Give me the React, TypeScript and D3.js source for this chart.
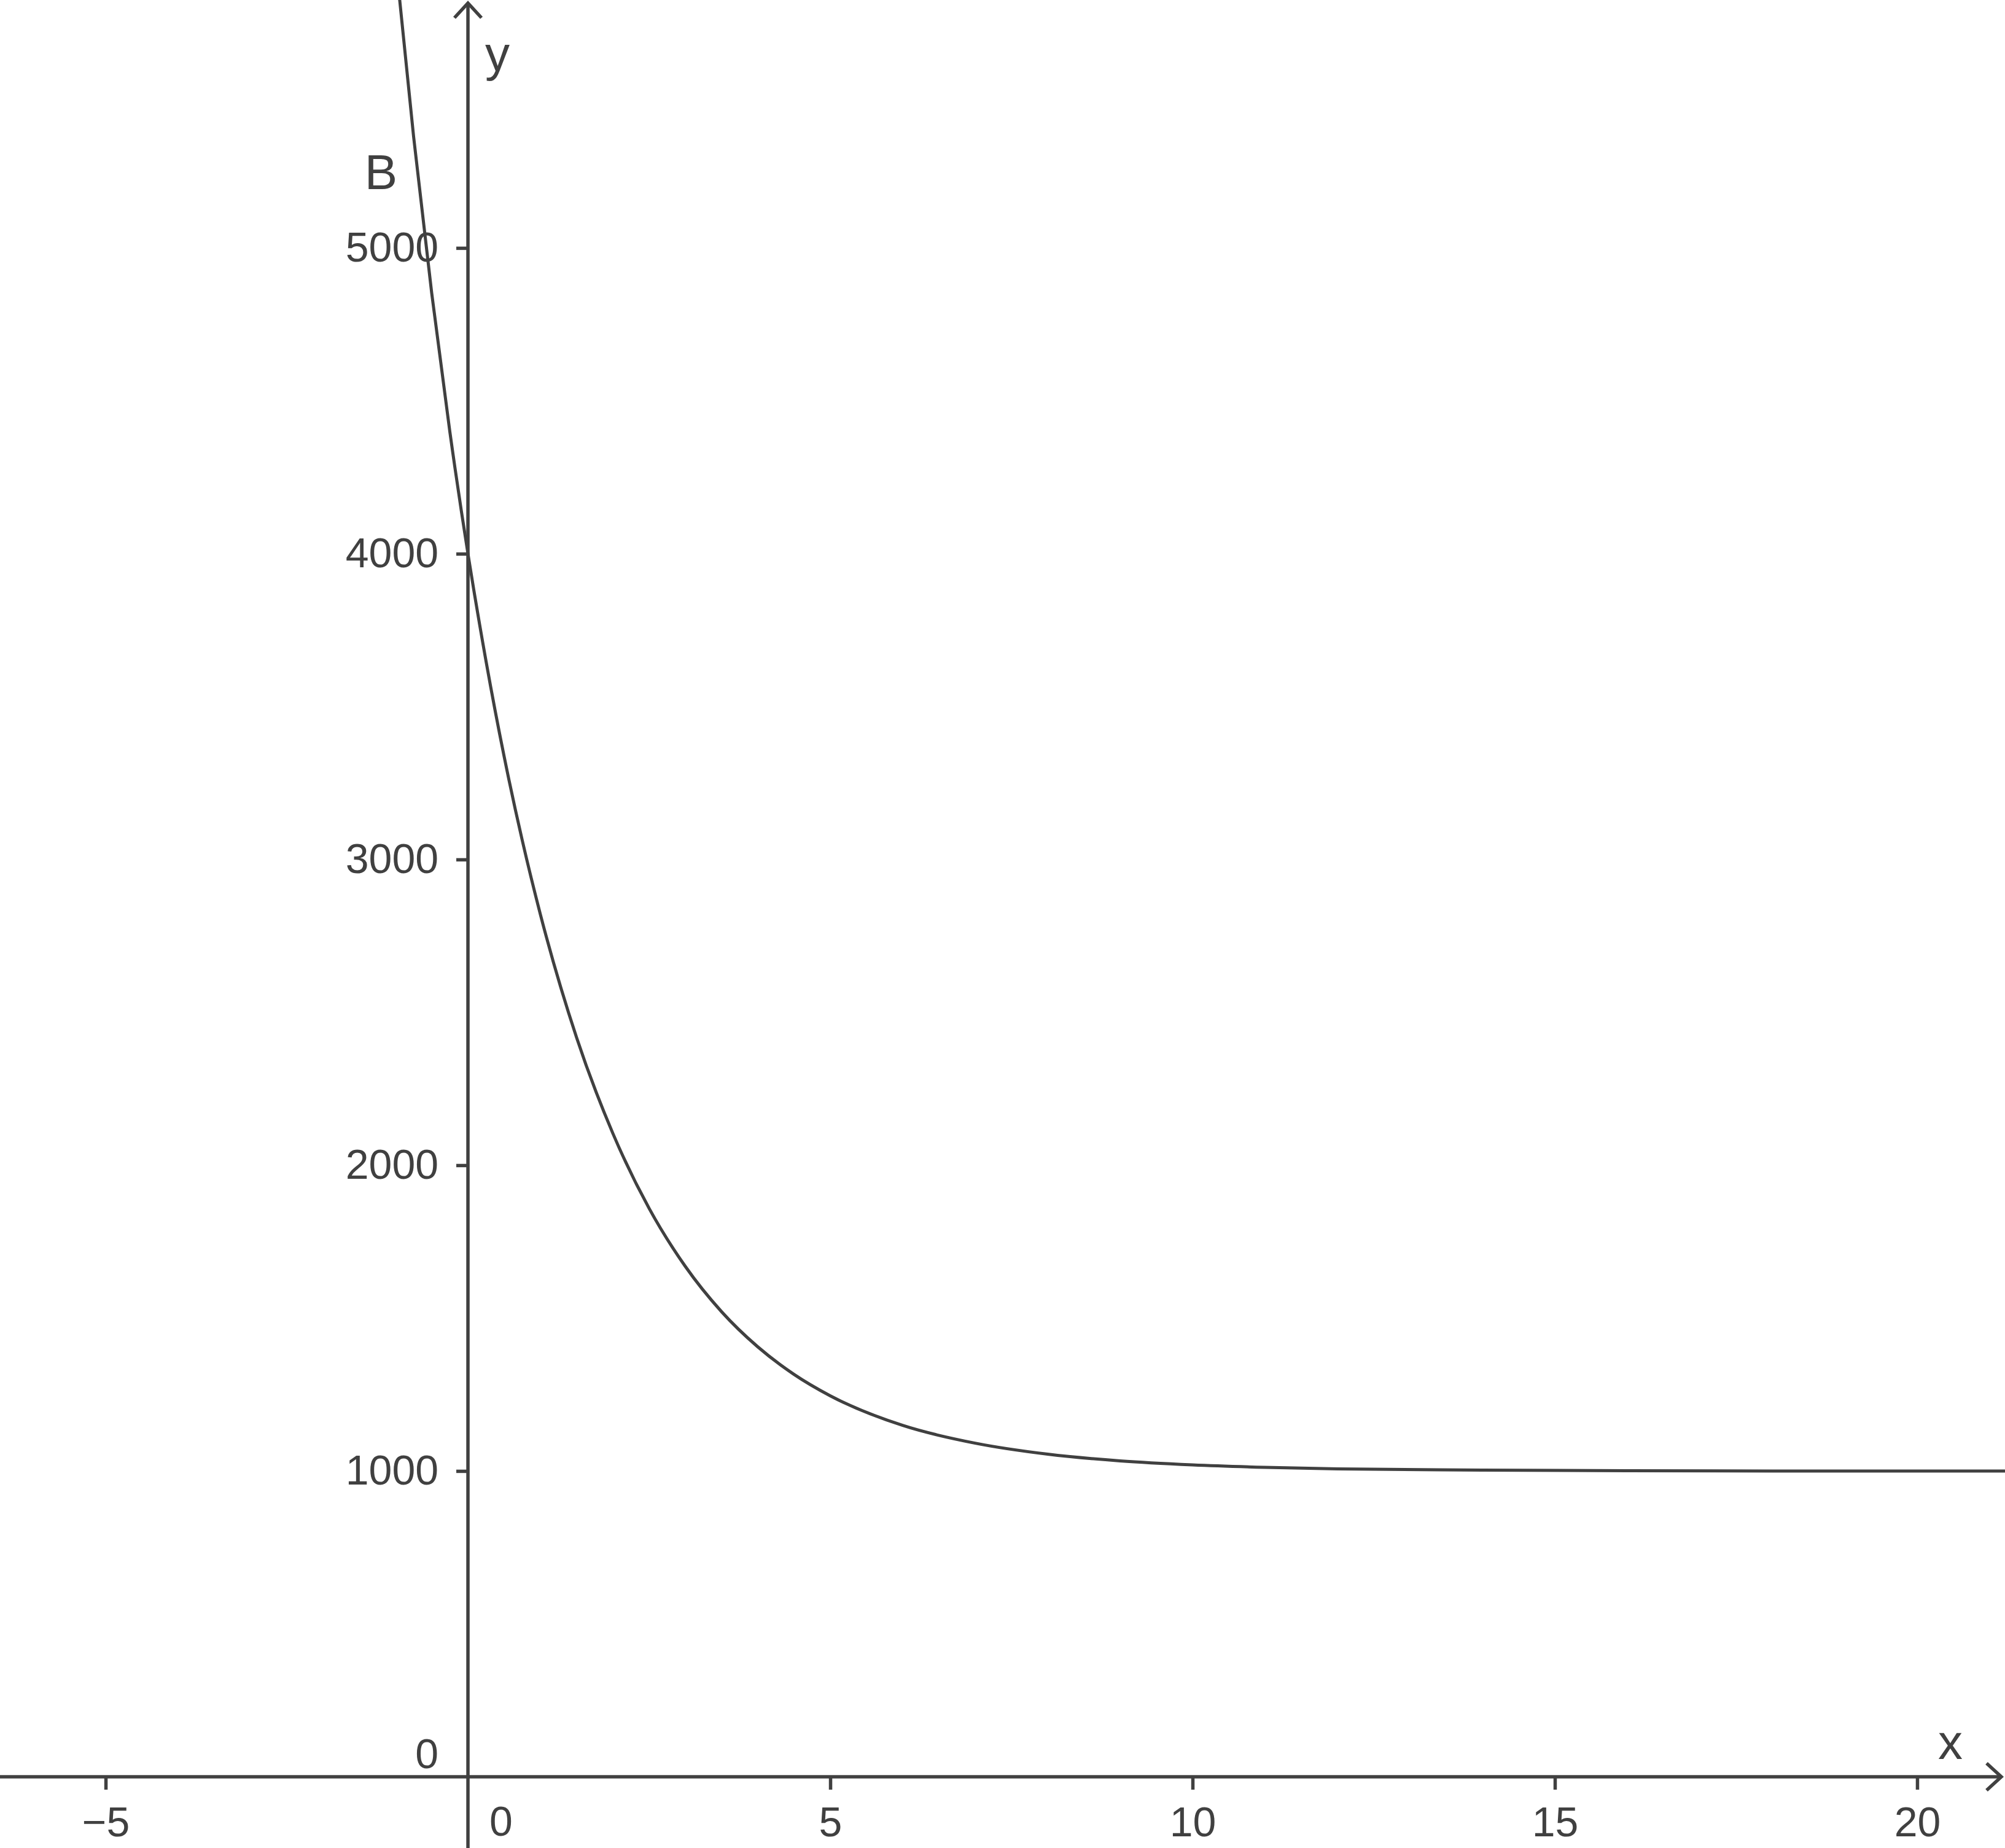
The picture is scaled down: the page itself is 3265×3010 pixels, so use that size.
import React, { useEffect, useRef } from 'react';
import * as d3 from 'd3';

// Values
const curveX = [-1.2, -1, -0.75, -0.5, -0.25, 0, 0.25, 0.5, 0.75, 1, 1.5, 2, 2.5, 3, 3.5, 4, 4.5, 5, 6, 7, 8, 9, 10, 11, 12, 14, 16, 18, 21.3];
const curveB = [6466, 5946, 5364, 4852, 4399, 4000, 3648, 3336, 3062, 2820, 2417, 2104, 1859, 1669, 1521, 1406, 1316, 1246, 1149, 1091, 1055, 1033, 1020, 1012, 1007, 1003, 1001, 1000, 1000];
const xTicks = [-5, 5, 10, 15, 20];
const yTicks = [1000, 2000, 3000, 4000, 5000];
const originLabel = '0';
const axisNames = { x: 'x', y: 'y', curve: 'B' };

const W = 3265;
const H = 3010;
const INK = '#404040';
const FONT = '"Liberation Sans", Arial, Helvetica, sans-serif';

const App: React.FC = () => {
  const svgRef = useRef<SVGSVGElement | null>(null);

  useEffect(() => {
    const svgEl = svgRef.current;
    if (!svgEl) return;

    const x = d3.scaleLinear().domain([-6.458, 21.212]).range([0, W]);
    const y = d3.scaleLinear().domain([-233, 5811]).range([H, 0]);
    const x0 = x(0);
    const y0 = y(0);

    const svg = d3.select(svgEl);
    svg.selectAll('*').remove();

    svg.append('rect').attr('width', W).attr('height', H).attr('fill', '#fff');

    svg.append('defs')
      .append('clipPath')
      .attr('id', 'plot-clip')
      .append('rect')
      .attr('width', W)
      .attr('height', H);

    // Axes with ticks
    const yAxis = svg.append('g')
      .attr('transform', `translate(${x0},0)`)
      .call(d3.axisLeft(y).tickValues(yTicks).tickSize(19).tickPadding(29).tickFormat(d3.format('d')));
    const xAxis = svg.append('g')
      .attr('transform', `translate(0,${y0})`)
      .call(d3.axisBottom(x).tickValues(xTicks).tickSize(21).tickPadding(28).tickFormat(d3.format('d')));

    [xAxis, yAxis].forEach((a) => {
      a.select('.domain').remove();
      a.selectAll('line').attr('stroke', INK).attr('stroke-width', 5.5);
      a.selectAll('text')
        .attr('fill', INK)
        .attr('font-size', 68)
        .attr('font-family', FONT);
    });

    // Axis lines
    svg.append('line')
      .attr('x1', 0).attr('x2', W - 6)
      .attr('y1', y0).attr('y2', y0)
      .attr('stroke', INK).attr('stroke-width', 5.5);
    svg.append('line')
      .attr('x1', x0).attr('x2', x0)
      .attr('y1', H).attr('y2', 6)
      .attr('stroke', INK).attr('stroke-width', 5.5);

    // Open arrowheads
    const tipX = W - 6;
    svg.append('path')
      .attr('d', `M${tipX - 24},${y0 - 22}L${tipX},${y0}L${tipX - 24},${y0 + 22}`)
      .attr('fill', 'none').attr('stroke', INK).attr('stroke-width', 5.5);
    const tipY = 5;
    svg.append('path')
      .attr('d', `M${x0 - 22},${tipY + 24}L${x0},${tipY}L${x0 + 22},${tipY + 24}`)
      .attr('fill', 'none').attr('stroke', INK).attr('stroke-width', 5.5);

    // Origin labels
    svg.append('text')
      .attr('x', x0 - 48).attr('y', y0 - 14)
      .attr('text-anchor', 'end')
      .attr('fill', INK).attr('font-size', 68).attr('font-family', FONT)
      .text(originLabel);
    svg.append('text')
      .attr('x', x0 + 54).attr('y', y0 + 96)
      .attr('text-anchor', 'middle')
      .attr('fill', INK).attr('font-size', 68).attr('font-family', FONT)
      .text(originLabel);

    // Axis names and curve name
    svg.append('text')
      .attr('x', W - 89).attr('y', y0 - 29)
      .attr('text-anchor', 'middle')
      .attr('fill', INK).attr('font-size', 80).attr('font-family', FONT)
      .text(axisNames.x);
    svg.append('text')
      .attr('x', x0 + 48).attr('y', 115)
      .attr('text-anchor', 'middle')
      .attr('fill', INK).attr('font-size', 80).attr('font-family', FONT)
      .text(axisNames.y);
    svg.append('text')
      .attr('x', x(-1.2)).attr('y', 308)
      .attr('text-anchor', 'middle')
      .attr('fill', INK).attr('font-size', 80).attr('font-family', FONT)
      .text(axisNames.curve);

    // Curve
    const pts = curveX.map((v, i) => [v, curveB[i]] as [number, number]);
    const line = d3.line<[number, number]>()
      .x((d) => x(d[0]))
      .y((d) => y(d[1]))
      .curve(d3.curveMonotoneX);
    svg.append('path')
      .attr('clip-path', 'url(#plot-clip)')
      .attr('d', line(pts))
      .attr('fill', 'none')
      .attr('stroke', INK)
      .attr('stroke-width', 5)
      .attr('stroke-linejoin', 'round');
  }, []);

  return (
    <div style={{ position: 'absolute', left: 0, top: 0, width: W, height: H }}>
      <svg ref={svgRef} width={W} height={H} style={{ display: 'block' }} role="img" aria-label="Graph of B" />
    </div>
  );
};

export default App;
